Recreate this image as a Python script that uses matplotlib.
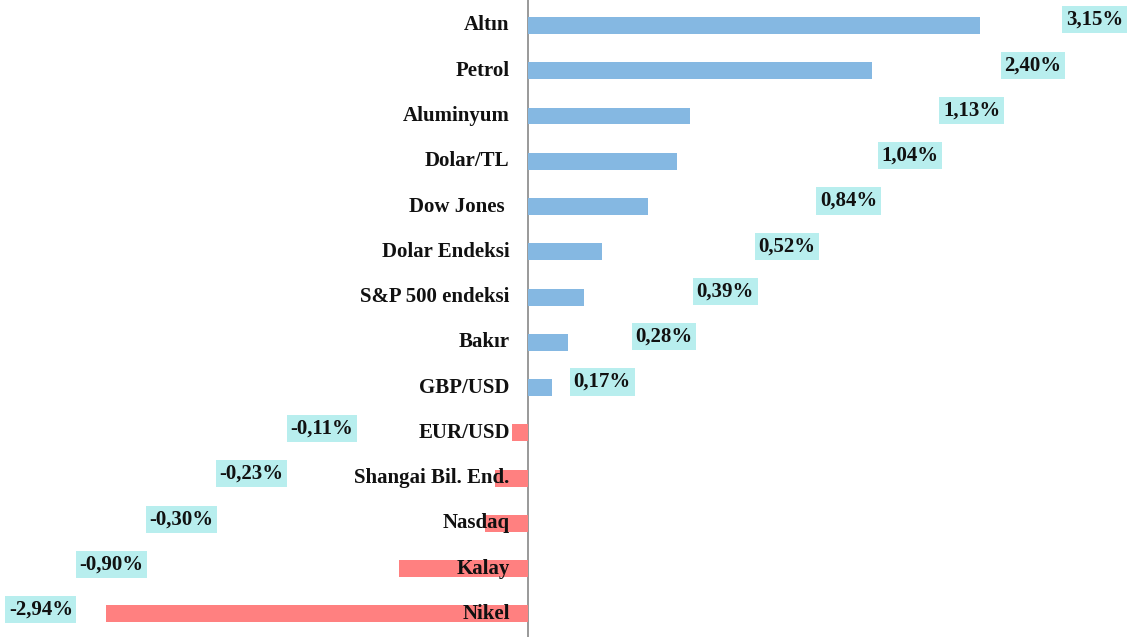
import numpy as np
import matplotlib.pyplot as plt

categories = ['Altın', 'Petrol', 'Aluminyum', 'Dolar/TL', 'Dow Jones ', 'Dolar Endeksi',
              'S&P 500 endeksi', 'Bakır', 'GBP/USD', 'EUR/USD', 'Shangai Bil. End.',
              'Nasdaq', 'Kalay', 'Nikel']
values = [3.15, 2.40, 1.13, 1.04, 0.84, 0.52, 0.39, 0.28, 0.17,
          -0.11, -0.23, -0.30, -0.90, -2.94]

pos_color = '#85B8E2'
neg_color = '#FF8080'
box_color = '#B8EEEE'

plt.rcParams['font.family'] = ['Liberation Serif', 'DejaVu Serif']

fig = plt.figure(figsize=(11.33, 6.37), dpi=100)
ax = fig.add_axes([0, 0, 1, 1])

y = np.arange(len(values))
vals = np.array(values)
colors = [pos_color if v >= 0 else neg_color for v in vals]
ax.barh(y, vals, height=0.375, color=colors, zorder=2)

ax.set_xlim(-3.68, 4.22)
ax.set_ylim(13.51, -0.563)
ax.axvline(0, color='#888888', lw=1.2, zorder=1)

fs = 15
for i, name in enumerate(categories):
    ax.annotate(name, xy=(0, i), xytext=(-13, 0), textcoords='offset points',
                ha='right', va='center', fontsize=fs, fontweight='bold',
                color='#111111', zorder=3)

# value labels sit on a staircase, not at the bar ends
pos_idx = [i for i, v in enumerate(values) if v >= 0]
neg_idx = [i for i, v in enumerate(values) if v < 0]
for k, i in enumerate(reversed(pos_idx)):
    x = 0.52 + 0.429 * k
    ax.annotate(f'{values[i]:.2f}%'.replace('.', ','), xy=(x, i), xytext=(0, 4),
                textcoords='offset points', ha='center', va='center',
                fontsize=fs, fontweight='bold', color='#111111', zorder=4,
                bbox=dict(boxstyle='square,pad=0.17', fc=box_color, ec='none'))
for k, i in enumerate(neg_idx):
    x = -1.435 - 0.49 * k
    ax.annotate(f'{values[i]:.2f}%'.replace('.', ','), xy=(x, i), xytext=(0, 3),
                textcoords='offset points', ha='center', va='center',
                fontsize=fs, fontweight='bold', color='#111111', zorder=4,
                bbox=dict(boxstyle='square,pad=0.17', fc=box_color, ec='none'))

ax.axis('off')
fig.savefig('out.png', dpi=100)
